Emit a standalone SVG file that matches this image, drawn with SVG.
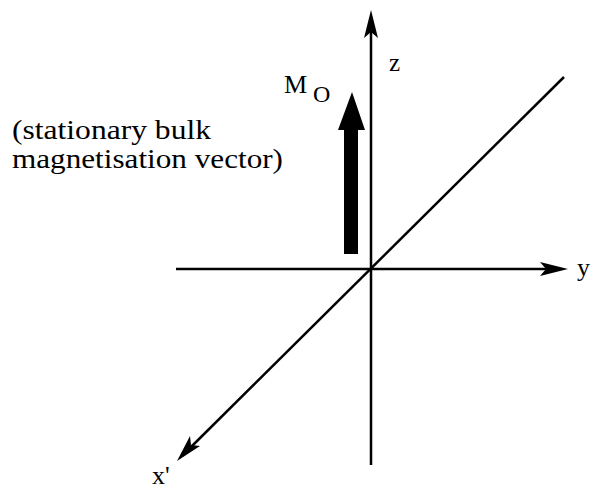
<svg xmlns="http://www.w3.org/2000/svg" width="600" height="490" viewBox="0 0 600 490">
<rect width="600" height="490" fill="#fff"/>
<g id="connectors">
<g stroke="#000" stroke-width="2.5" fill="none">
<line x1="371" y1="465" x2="371" y2="30"/>
<line x1="176" y1="269" x2="548" y2="269"/>
<line x1="564" y1="77" x2="191" y2="447"/>
</g>
<g fill="#000">
<path d="M371,10 L378,38 L371,32 L364,38 Z"/>
<path d="M568,269 L540,276 L546,269 L540,262 Z"/>
<path d="M177,461 L190,436 L191,445 L200,446 Z"/>
</g>
</g>
<g id="mo-vector">
<path d="M344,254 L344,130 L338,130 L352,92 L365,130 L358,130 L358,254 Z" fill="#000"/>
</g>
<g id="labels" fill="#000">
<text x="389" y="71" font-size="25" font-family="Liberation Serif">z</text>
<text x="284" y="93" font-size="26" font-family="Liberation Serif">M</text>
<text x="313" y="102" font-size="24" font-family="Liberation Serif">O</text>
<text x="577" y="276" font-size="26" font-family="Liberation Serif">y</text>
<text x="152" y="484" font-size="26" font-family="Liberation Serif">x'</text>
<text x="12" y="139" font-size="28" font-family="Liberation Serif" textLength="199" lengthAdjust="spacingAndGlyphs">(stationary bulk</text>
<text x="12" y="168" font-size="28" font-family="Liberation Serif" textLength="271" lengthAdjust="spacingAndGlyphs">magnetisation vector)</text>
</g>
</svg>
